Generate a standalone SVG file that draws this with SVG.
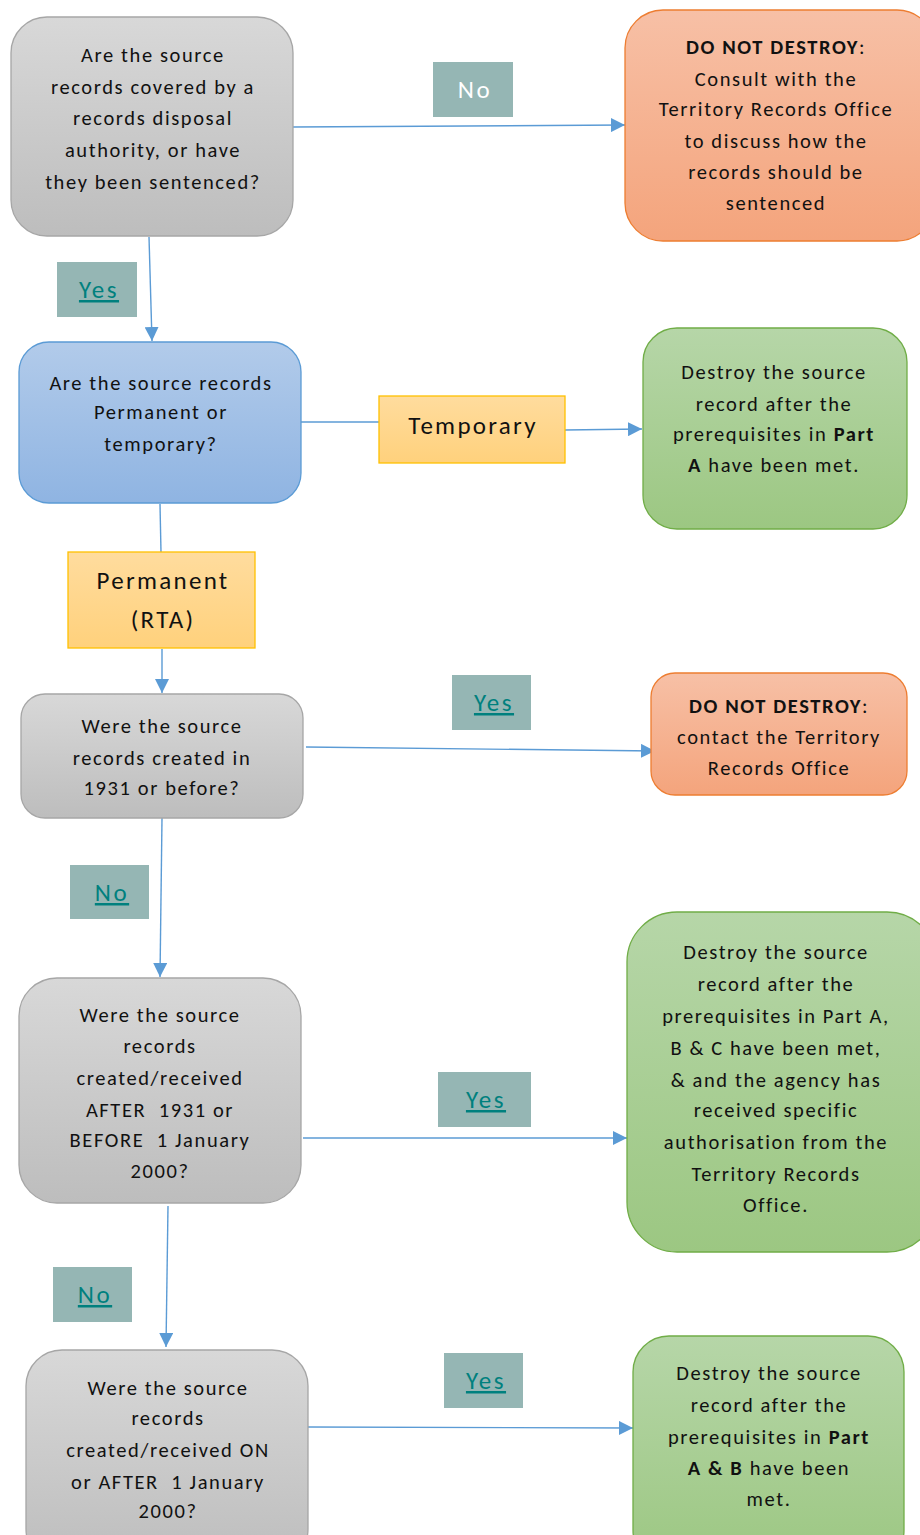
<svg xmlns="http://www.w3.org/2000/svg" width="920" height="1535" viewBox="0 0 920 1535">
<defs>
<linearGradient id="gGray" x1="0" y1="0" x2="0" y2="1"><stop offset="0" stop-color="#d8d8d8"/><stop offset="1" stop-color="#bdbdbd"/></linearGradient>
<linearGradient id="gOrange" x1="0" y1="0" x2="0" y2="1"><stop offset="0" stop-color="#f7c0a6"/><stop offset="1" stop-color="#f4a47c"/></linearGradient>
<linearGradient id="gBlue" x1="0" y1="0" x2="0" y2="1"><stop offset="0" stop-color="#b2cbea"/><stop offset="1" stop-color="#8fb4e2"/></linearGradient>
<linearGradient id="gGreen" x1="0" y1="0" x2="0" y2="1"><stop offset="0" stop-color="#b6d6a8"/><stop offset="1" stop-color="#9cc782"/></linearGradient>
<linearGradient id="gYellow" x1="0" y1="0" x2="0" y2="1"><stop offset="0" stop-color="#ffdc9e"/><stop offset="1" stop-color="#ffd17c"/></linearGradient>
<marker id="arr" viewBox="0 0 10 10" refX="10" refY="5" markerWidth="14" markerHeight="14" markerUnits="userSpaceOnUse" orient="auto"><path d="M0,0 L10,5 L0,10 z" fill="#5b9bd5"/></marker>
</defs>
<style>
text{font-family:Carlito,Calibri,Lato,"Open Sans",sans-serif;fill:#111;text-anchor:middle}
.t{font-size:20.5px;letter-spacing:1.6px}
.pre{white-space:pre}
.big{font-size:25px;letter-spacing:2.3px}
.gray{fill:url(#gGray);stroke:#a6a6a6;stroke-width:1.3}
.orange{fill:url(#gOrange);stroke:#ed7d31;stroke-width:1.3}
.blue{fill:url(#gBlue);stroke:#5b9bd5;stroke-width:1.3}
.green{fill:url(#gGreen);stroke:#70ad47;stroke-width:1.3}
.yellow{fill:url(#gYellow);stroke:#ffc000;stroke-width:1.3}
.lbl{fill:#95b6b4}
.link{font-size:25px;letter-spacing:2.5px;fill:#00807e;text-decoration:underline}
.c{fill:none;stroke:#5b9bd5;stroke-width:1.4}
.ca{fill:none;stroke:#5b9bd5;stroke-width:1.4;marker-end:url(#arr)}
.b{font-weight:bold}
</style>

<g id="connectors">
<path class="ca" d="M293,127 L625,125"/>
<path class="ca" d="M149,237 L152,341"/>
<path class="c" d="M301,422 L379,422"/>
<path class="ca" d="M565,430 L642,429"/>
<path class="c" d="M160,504 L161,552"/>
<path class="ca" d="M162,649 L162,693"/>
<path class="ca" d="M306,747 L655,751"/>
<path class="ca" d="M162,818 L160,977"/>
<path class="ca" d="M303,1138 L627,1138"/>
<path class="ca" d="M168,1206 L166,1347"/>
<path class="ca" d="M308,1427 L633,1428"/>
</g>

<g id="n1">
<rect class="gray" x="11" y="17" width="282" height="219" rx="36"/>
<text class="t" x="153" y="62">Are the source</text>
<text class="t" x="153" y="94">records covered by a</text>
<text class="t" x="153" y="125">records disposal</text>
<text class="t" x="153" y="157">authority, or have</text>
<text class="t" x="153" y="189">they been sentenced?</text>
</g>

<g id="lbl-no1">
<rect class="lbl" x="433" y="62" width="80" height="55"/>
<text x="475" y="98" style="font-size:25px;letter-spacing:2.5px;fill:#ffffff">No</text>
</g>

<g id="n2">
<rect class="orange" x="625" y="10" width="310" height="231" rx="38"/>
<text class="t" x="776" y="54"><tspan class="b">DO NOT DESTROY</tspan>:</text>
<text class="t" x="776" y="86">Consult with the</text>
<text class="t" x="776" y="116">Territory Records Office</text>
<text class="t" x="776" y="148">to discuss how the</text>
<text class="t" x="776" y="179">records should be</text>
<text class="t" x="776" y="210">sentenced</text>
</g>

<g id="lbl-yes1">
<rect class="lbl" x="57" y="262" width="80" height="55"/>
<text class="link" x="99" y="298">Yes</text>
</g>

<g id="n3">
<rect class="blue" x="19" y="342" width="282" height="161" rx="30"/>
<text class="t" x="161" y="390">Are the source records</text>
<text class="t" x="161" y="419">Permanent or</text>
<text class="t" x="161" y="451">temporary?</text>
</g>

<g id="lbl-temporary">
<rect class="yellow" x="379" y="396" width="186" height="67"/>
<text class="big" x="473" y="434">Temporary</text>
</g>

<g id="n4">
<rect class="green" x="643" y="328" width="264" height="201" rx="34"/>
<text class="t" x="774" y="379">Destroy the source</text>
<text class="t" x="774" y="411">record after the</text>
<text class="t" x="774" y="441">prerequisites in <tspan class="b">Part</tspan></text>
<text class="t" x="774" y="472"><tspan class="b">A</tspan> have been met.</text>
</g>

<g id="lbl-permanent">
<rect class="yellow" x="68" y="552" width="187" height="96"/>
<text class="big" x="163" y="589">Permanent</text>
<text class="big" x="163" y="628">(RTA)</text>
</g>

<g id="n5">
<rect class="gray" x="21" y="694" width="282" height="124" rx="24"/>
<text class="t" x="162" y="733">Were the source</text>
<text class="t" x="162" y="765">records created in</text>
<text class="t" x="162" y="795">1931 or before?</text>
</g>

<g id="lbl-yes2">
<rect class="lbl" x="452" y="675" width="79" height="55"/>
<text class="link" x="494" y="711">Yes</text>
</g>

<g id="n6">
<rect class="orange" x="651" y="673" width="256" height="122" rx="24"/>
<text class="t" x="779" y="713"><tspan class="b">DO NOT DESTROY</tspan>:</text>
<text class="t" x="779" y="744">contact the Territory</text>
<text class="t" x="779" y="775">Records Office</text>
</g>

<g id="lbl-no2">
<rect class="lbl" x="70" y="865" width="79" height="54"/>
<text class="link" x="112" y="901">No</text>
</g>

<g id="n7">
<rect class="gray" x="19" y="978" width="282" height="225" rx="38"/>
<text class="t" x="160" y="1022">Were the source</text>
<text class="t" x="160" y="1053">records</text>
<text class="t" x="160" y="1085">created/received</text>
<text class="t pre" x="160" y="1117">AFTER  1931 or</text>
<text class="t pre" x="160" y="1147">BEFORE  1 January</text>
<text class="t" x="160" y="1178">2000?</text>
</g>

<g id="lbl-yes3">
<rect class="lbl" x="438" y="1072" width="93" height="55"/>
<text class="link" x="486" y="1108">Yes</text>
</g>

<g id="n8">
<rect class="green" x="627" y="912" width="310" height="340" rx="50"/>
<text class="t" x="776" y="959">Destroy the source</text>
<text class="t" x="776" y="991">record after the</text>
<text class="t" x="776" y="1023">prerequisites in Part A,</text>
<text class="t" x="776" y="1055">B &amp; C have been met,</text>
<text class="t" x="776" y="1087">&amp; and the agency has</text>
<text class="t" x="776" y="1117">received specific</text>
<text class="t" x="776" y="1149">authorisation from the</text>
<text class="t" x="776" y="1181">Territory Records</text>
<text class="t" x="776" y="1212">Office.</text>
</g>

<g id="lbl-no3">
<rect class="lbl" x="53" y="1267" width="79" height="55"/>
<text class="link" x="95" y="1303">No</text>
</g>

<g id="n9">
<rect class="gray" x="26" y="1350" width="282" height="215" rx="36"/>
<text class="t" x="168" y="1395">Were the source</text>
<text class="t" x="168" y="1425">records</text>
<text class="t" x="168" y="1457">created/received ON</text>
<text class="t pre" x="168" y="1489">or AFTER  1 January</text>
<text class="t" x="168" y="1518">2000?</text>
</g>

<g id="lbl-yes4">
<rect class="lbl" x="444" y="1353" width="79" height="55"/>
<text class="link" x="486" y="1389">Yes</text>
</g>

<g id="n10">
<rect class="green" x="633" y="1336" width="271" height="230" rx="36"/>
<text class="t" x="769" y="1380">Destroy the source</text>
<text class="t" x="769" y="1412">record after the</text>
<text class="t" x="769" y="1444">prerequisites in <tspan class="b">Part</tspan></text>
<text class="t" x="769" y="1475"><tspan class="b">A &amp; B</tspan> have been</text>
<text class="t" x="769" y="1506">met.</text>
</g>
</svg>
